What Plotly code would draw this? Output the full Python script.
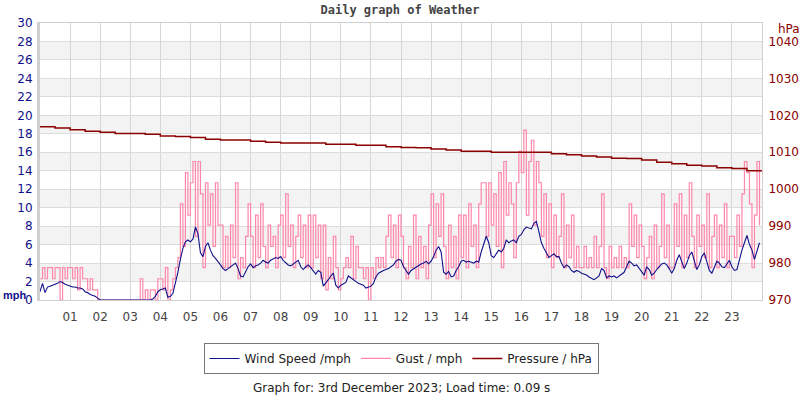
import pandas as pd
import plotly.graph_objects as go

# 5-minute readings for 3rd December 2023, one row per hour (mph)
wind_speed = [
    0.9, 1.8, 0.8, 1.4, 1.5, 1.6, 1.7, 1.8, 2.0, 1.9, 1.7, 1.6,
    1.5, 1.4, 1.4, 1.3, 1.3, 1.2, 0.9, 0.8, 0.6, 0.5, 0.4, 0.2,
    0.0, 0.0, 0.0, 0.0, 0.0, 0.0, 0.0, 0.0, 0.0, 0.0, 0.0, 0.0,
    0.0, 0.0, 0.0, 0.0, 0.0, 0.0, 0.0, 0.0, 0.0, 0.1, 0.4, 0.9,
    1.1, 1.2, 1.3, 0.3, 0.4, 0.7, 1.7, 3.0, 4.4, 5.6, 6.3, 6.5,
    6.3, 6.6, 7.9, 7.2, 5.1, 4.7, 5.8, 6.2, 5.4, 4.8, 4.5, 4.2,
    3.8, 3.4, 3.2, 3.4, 3.6, 3.9, 4.0, 3.4, 2.6, 2.5, 3.0, 3.6,
    3.9, 3.5, 3.7, 3.8, 4.0, 4.3, 4.1, 4.0, 4.3, 4.5, 4.6, 4.5,
    4.7, 4.3, 4.0, 3.8, 3.7, 3.9, 4.2, 4.3, 3.6, 3.3, 3.6, 3.8,
    3.5, 3.2, 2.8, 3.2, 3.0, 1.5, 1.8, 2.2, 2.6, 2.9, 1.6, 1.3,
    1.6, 1.8, 1.9, 2.6, 2.4, 2.2, 2.0, 1.8, 1.7, 1.6, 1.3, 1.4,
    1.5, 1.8, 2.5, 2.9, 3.1, 3.2, 3.3, 3.4, 3.6, 3.8, 4.2, 4.4,
    4.3, 3.6, 3.2, 2.8, 3.2, 3.4, 3.6, 3.7, 3.9, 4.0, 4.2, 3.9,
    4.2, 4.7, 5.4, 5.8, 5.2, 3.0, 2.8, 3.1, 2.5, 2.6, 3.2, 3.6,
    4.2, 4.3, 4.1, 4.2, 4.1, 4.0, 4.2, 4.1, 5.2, 6.0, 6.9, 6.2,
    4.8, 4.6, 5.0, 5.4, 5.2, 5.6, 6.5, 6.2, 6.4, 6.5, 6.2, 6.9,
    7.1, 7.6, 7.9, 7.8, 7.7, 8.3, 8.5, 7.4, 6.2, 5.6, 5.1, 4.6,
    4.8, 5.0, 4.7, 4.7, 4.0, 3.5, 3.8, 3.6, 3.2, 3.0, 3.2, 3.1,
    2.9, 2.8, 2.7, 2.5, 2.3, 2.2, 2.4, 2.6, 3.4, 3.2, 2.4, 2.6,
    2.5, 2.6, 2.4, 2.6, 2.8, 3.0, 3.6, 4.2, 4.0, 3.7, 3.8, 3.4,
    3.1, 2.7, 3.6, 3.3, 2.7, 2.9, 3.3, 3.6, 3.9, 4.0, 3.8, 3.4,
    2.9, 3.4, 4.3, 4.9, 4.2, 3.4, 4.0, 4.8, 5.2, 4.1, 3.3, 3.8,
    4.7, 5.1, 4.2, 3.2, 2.9, 3.6, 4.2, 4.0, 3.6, 3.5, 3.9, 4.3,
    3.6, 3.2, 3.3, 4.4, 5.4, 6.2, 7.0, 6.0, 5.4, 4.4, 5.2, 6.2,
]

gust = [
    2.3, 3.5, 2.3, 3.5, 3.5, 2.3, 3.5, 3.5, 0.0, 3.5, 2.3, 3.5,
    3.5, 2.3, 3.5, 1.1, 3.5, 2.3, 2.3, 1.1, 2.3, 1.1, 1.1, 0.0,
    0.0, 0.0, 0.0, 0.0, 0.0, 0.0, 0.0, 0.0, 0.0, 0.0, 0.0, 0.0,
    0.0, 0.0, 0.0, 0.0, 2.3, 0.0, 1.1, 0.0, 1.1, 1.1, 0.0, 2.3,
    2.3, 1.1, 3.5, 0.0, 1.1, 2.3, 3.5, 4.6, 10.4, 5.8, 13.8, 9.2,
    12.7, 15.0, 6.9, 15.0, 11.5, 3.5, 12.7, 8.1, 11.5, 5.8, 12.7, 8.1,
    8.1, 3.5, 6.9, 3.5, 8.1, 4.6, 12.7, 2.3, 4.6, 3.5, 6.9, 10.4,
    6.9, 3.5, 9.2, 4.6, 10.4, 5.8, 3.5, 8.1, 5.8, 6.9, 3.5, 8.1,
    9.2, 4.6, 11.5, 5.8, 8.1, 3.5, 6.9, 9.2, 4.6, 8.1, 3.5, 9.2,
    3.5, 9.2, 4.6, 8.1, 2.3, 8.1, 1.1, 4.6, 2.3, 6.9, 3.5, 1.1,
    2.3, 3.5, 4.6, 3.5, 6.9, 2.3, 5.8, 3.5, 3.5, 2.3, 3.5, 0.0,
    3.5, 2.3, 4.6, 3.5, 4.6, 3.5, 6.9, 9.2, 4.6, 8.1, 3.5, 9.2,
    6.9, 3.5, 2.3, 5.8, 3.5, 9.2, 2.3, 6.9, 3.5, 5.8, 2.3, 8.1,
    11.5, 4.6, 10.4, 6.9, 11.5, 5.8, 2.3, 8.1, 3.5, 6.9, 2.3, 9.2,
    4.6, 9.2, 3.5, 10.4, 5.8, 8.1, 3.5, 10.4, 12.7, 12.7, 6.9, 12.7,
    8.1, 11.5, 5.8, 13.8, 3.5, 15.0, 9.2, 12.7, 10.4, 4.6, 12.7, 16.1,
    13.8, 18.4, 9.2, 15.0, 17.3, 8.1, 15.0, 12.7, 6.9, 11.5, 4.6, 10.4,
    3.5, 9.2, 4.6, 6.9, 11.5, 3.5, 8.1, 4.6, 9.2, 3.5, 5.8, 3.5,
    3.5, 5.8, 3.5, 4.6, 3.5, 6.9, 3.5, 5.8, 11.5, 3.5, 2.3, 5.8,
    3.5, 4.6, 3.5, 5.8, 3.5, 4.6, 3.5, 10.4, 5.8, 9.2, 4.6, 8.1,
    5.8, 2.3, 4.6, 6.9, 2.3, 8.1, 3.5, 5.8, 11.5, 4.6, 8.1, 3.5,
    3.5, 10.4, 5.8, 11.5, 3.5, 9.2, 4.6, 12.7, 6.9, 3.5, 9.2, 5.8,
    8.1, 4.6, 11.5, 3.5, 6.9, 9.2, 3.5, 8.1, 4.6, 10.4, 3.5, 6.9,
    6.9, 4.6, 9.2, 5.8, 11.5, 15.0, 13.8, 10.4, 3.5, 9.2, 15.0, 8.1,
]

# half-hourly pressure (hPa), 00:00 .. 24:00
pressure = [
    1016.9, 1016.6, 1016.1, 1015.7, 1015.4, 1015.1, 1015.1, 1014.9,
    1014.4, 1014.3, 1014.0, 1013.5, 1013.3, 1013.3, 1013.0, 1012.7,
    1012.5, 1012.5, 1012.5, 1012.2, 1012.2, 1011.9, 1011.9, 1011.5,
    1011.3, 1011.2, 1010.9, 1010.6, 1010.3, 1010.3, 1010.0, 1010.0,
    1010.0, 1010.0, 1009.6, 1009.3, 1009.0, 1008.7, 1008.4, 1008.3,
    1007.9, 1007.3, 1006.9, 1006.5, 1006.3, 1005.8, 1005.6, 1005.0,
    1004.8,
]

hour_labels = ["01", "02", "03", "04", "05", "06", "07", "08", "09", "10", "11", "12",
               "13", "14", "15", "16", "17", "18", "19", "20", "21", "22", "23"]

times = pd.date_range("2023-12-03 00:00", periods=len(wind_speed), freq="5min")
p_times = pd.date_range("2023-12-03 00:00", periods=len(pressure), freq="30min")

NAVY = "#10108a"
PINK = "#ff88aa"
DARKRED = "#8b0000"
FONT = "DejaVu Sans"

fig = go.Figure()

# gust drawn first so the wind line sits on top
fig.add_trace(go.Scatter(x=times, y=gust, name="Gust / mph", mode="lines",
                         line=dict(color=PINK, width=1.2, shape="hv"), legendrank=2))
fig.add_trace(go.Scatter(x=times, y=wind_speed, name="Wind Speed /mph", mode="lines",
                         line=dict(color=NAVY, width=1.1), legendrank=1))
fig.add_trace(go.Scatter(x=p_times, y=pressure, name="Pressure / hPa", mode="lines",
                         line=dict(color=DARKRED, width=1.5, shape="hv"),
                         yaxis="y2", legendrank=3))

# alternating grey bands
for lo in range(2, 30, 4):
    fig.add_shape(type="rect", xref="paper", yref="y", x0=0, x1=1, y0=lo, y1=lo + 2,
                  fillcolor="#f3f3f3", line_width=0, layer="below")

fig.update_layout(
    width=800, height=400,
    margin=dict(l=40, r=38, t=23, b=100, autoexpand=False),
    paper_bgcolor="white", plot_bgcolor="white",
    font=dict(family=FONT, size=12, color="#333"),
    title=dict(text="<b>Daily graph of Weather</b>", x=0.5, xanchor="center",
               y=0.985, yanchor="top",
               font=dict(family="DejaVu Sans Mono", size=12, color="#444")),
    xaxis=dict(
        type="date", automargin=False,
        range=["2023-12-03 00:00", "2023-12-04 00:00"],
        tickvals=[f"2023-12-03 {h}:00" for h in hour_labels],
        ticktext=hour_labels,
        showgrid=True, gridcolor="#d6d6d6", gridwidth=1,
        showline=True, linecolor="#d0d0d0", linewidth=1, mirror=True,
        ticks="", ticklabelstandoff=6,
        tickfont=dict(family=FONT, size=12, color="#444"),
        zeroline=False,
    ),
    yaxis=dict(
        range=[0, 30], dtick=2, tick0=0, automargin=False,
        showgrid=True, gridcolor="#dcdcdc", gridwidth=1,
        showline=True, linecolor="#d0d0d0", linewidth=3,
        ticks="", ticklabelstandoff=2,
        tickfont=dict(family=FONT, size=12, color=NAVY),
        zeroline=False,
    ),
    yaxis2=dict(
        range=[970, 1045], tickvals=[970, 980, 990, 1000, 1010, 1020, 1030, 1040],
        overlaying="y", side="right", automargin=False,
        showgrid=False, showline=True, linecolor="#d0d0d0", linewidth=1,
        ticks="", ticklabelstandoff=3,
        tickfont=dict(family=FONT, size=12, color=DARKRED),
        zeroline=False,
    ),
    legend=dict(
        orientation="h", x=0.5, xanchor="center", y=-0.155, yanchor="top",
        bordercolor="#777", borderwidth=1, bgcolor="white",
        font=dict(family=FONT, size=12, color="#222"),
        itemwidth=30, tracegroupgap=0,
    ),
    showlegend=True,
)

fig.add_annotation(text="mph", xref="paper", yref="y", x=-0.054, y=0.5,
                   xanchor="left", yanchor="middle", showarrow=False,
                   font=dict(family="Liberation Sans", size=11, color=NAVY, weight="bold"))
fig.add_annotation(text="hPa", xref="paper", yref="y", x=1.02, y=29.3,
                   xanchor="left", yanchor="middle", showarrow=False,
                   font=dict(family=FONT, size=12, color=DARKRED))
fig.add_annotation(text="Graph for: 3rd December 2023; Load time: 0.09 s",
                   xref="paper", yref="paper", x=0.5, y=-0.318,
                   xanchor="center", yanchor="middle", showarrow=False,
                   font=dict(family=FONT, size=12, color="#222"))

# page body has a default margin; drop it so the figure sits at the window corner
fig.write_html("out.html", config={"displayModeBar": False},
               post_script="document.body.style.margin='0';")
